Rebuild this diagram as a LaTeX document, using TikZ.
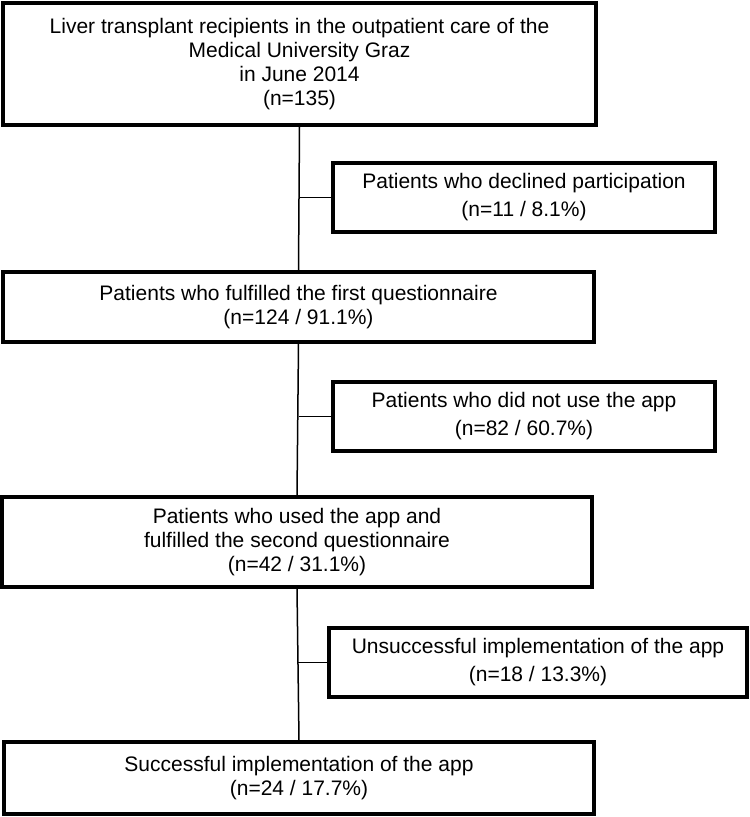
\documentclass[tikz,border=0pt]{standalone}
\usepackage{fontspec}
\setmainfont{Liberation Sans}
\begin{document}
\begin{tikzpicture}[x=1pt,y=1pt]
  % Styles
  \tikzstyle{main box}=[draw,line width=3.2pt,align=center,inner sep=0pt,
    font=\fontsize{21}{24}\selectfont]
  \tikzstyle{side box}=[main box,font=\fontsize{21}{28}\selectfont]
  \tikzstyle{connection}=[line width=1.5pt]

  \useasboundingbox (0,0) rectangle (750,817);

  % The main boxes
  \node[main box,minimum width=593pt,minimum height=122pt] (recipients) at (299.5,753)
    {Liver transplant recipients in the outpatient care of the\\
     Medical University Graz\\ in June 2014\\ (n=135)};
  \node[main box,minimum width=591pt,minimum height=70pt] (first) at (298.5,510)
    {Patients who fulfilled the first questionnaire\\ (n=124 / 91.1\%)};
  \node[main box,minimum width=590pt,minimum height=90pt] (second) at (297,275)
    {Patients who used the app and\\ fulfilled the second questionnaire\\
     (n=42 / 31.1\%)};
  \node[main box,minimum width=590pt,minimum height=72pt] (success) at (299,39)
    {Successful implementation of the app\\ (n=24 / 17.7\%)};

  % The side boxes
  \node[side box,minimum width=382pt,minimum height=69pt] (declined) at (524,619.5)
    {Patients who declined participation\\ (n=11 / 8.1\%)};
  \node[side box,minimum width=382pt,minimum height=69pt] (noapp) at (524,400.5)
    {Patients who did not use the app\\ (n=82 / 60.7\%)};
  \node[side box,minimum width=418pt,minimum height=69pt] (failure) at (538,154.5)
    {Unsuccessful implementation of the app\\ (n=18 / 13.3\%)};

  % The connections
  \draw[style=connection] (recipients.south) -- (first.north);
  \draw[style=connection] (first.south) -- (second.north);
  \draw[style=connection] (second.south) -- (success.north);

  \draw[style=connection] (declined.west) -- (declined.west -| recipients.south);
  \draw[style=connection] (noapp.west) -- (noapp.west -| first.south);
  \draw[style=connection] (failure.west) -- (failure.west -| second.south);
\end{tikzpicture}
\end{document}
